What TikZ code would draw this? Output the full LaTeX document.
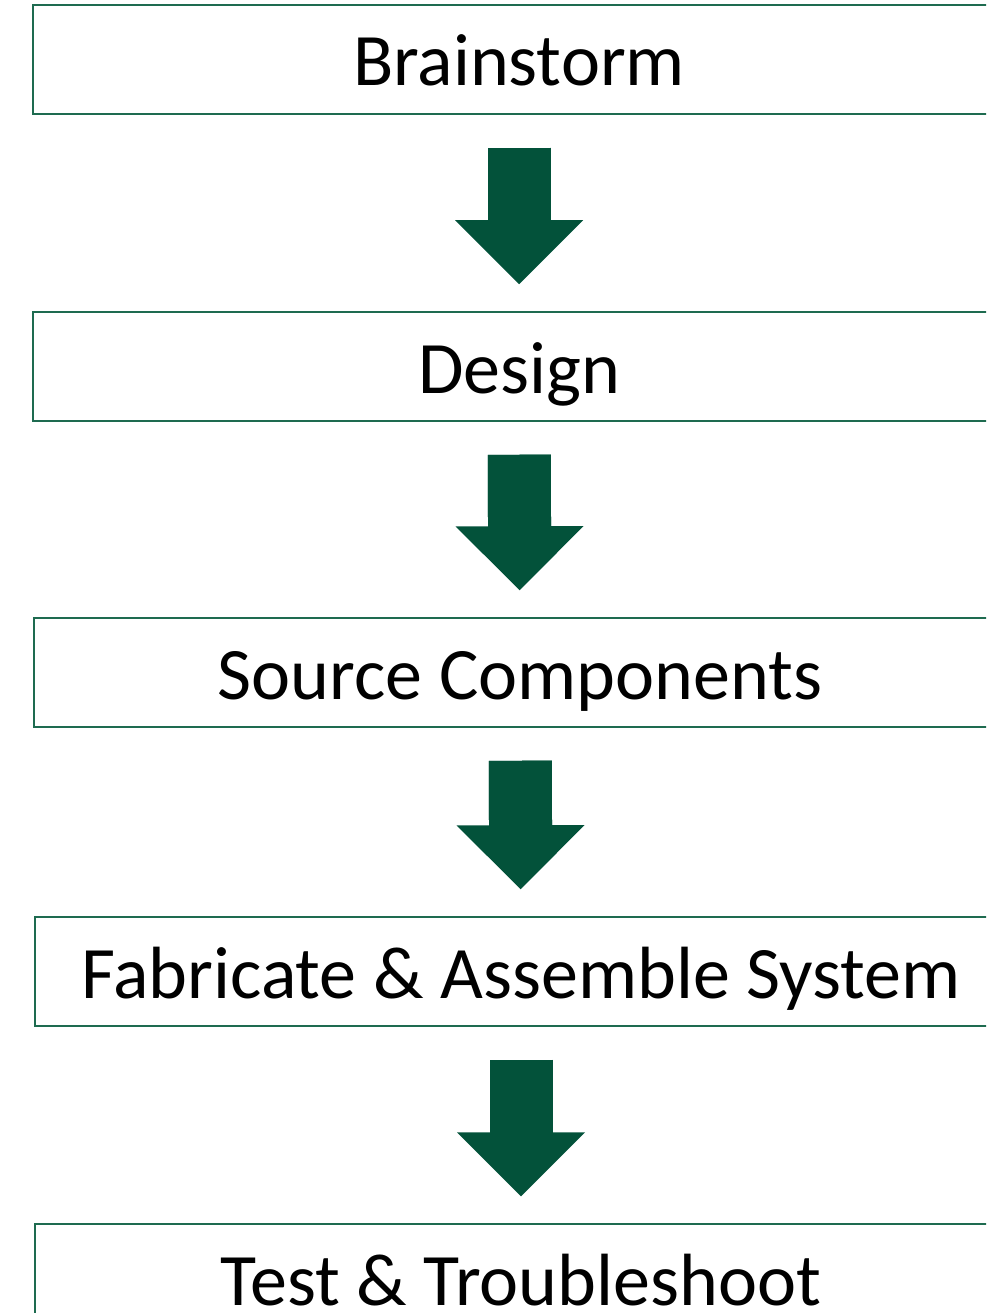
\documentclass[tikz,border=0pt]{standalone}
\usepackage{fontspec}
\setmainfont{Carlito}
\usetikzlibrary{arrows.meta, positioning}

\definecolor{stepgreen}{HTML}{03523A}
\definecolor{boxgreen}{HTML}{1E6B50}

\tikzset{
	stepbox/.style={rectangle, draw=boxgreen, line width=1.5pt, minimum width=972pt, minimum height=109pt, inner sep=0pt, text height=53pt, text depth=0pt, font=\fontsize{74pt}{89pt}\selectfont},
	bigarrow/.style={stepgreen, line width=63pt, shorten <=33pt, shorten >=27pt, -{Triangle[length=64pt, width=128pt, line width=0pt]}, postaction={draw, -, shorten >=86pt}}
}

\begin{document}
\begin{tikzpicture}[x=1pt, y=-1pt, node distance=307pt]
		\useasboundingbox (0,0) rectangle (986,1313);
		\clip (0,0) rectangle (986,1313);
		
		\node[stepbox] at (519,59.5) (brainstorm) {Brainstorm};
		\node[stepbox, below of=brainstorm] (design) {Design};
		\node[stepbox, below of=design, yshift=1pt, xshift=1pt] (source) {Source Components};
		\node[stepbox, below of=source, yshift=8pt, xshift=1pt] (fabricate) {Fabricate \& Assemble System};
		\node[stepbox, below of=fabricate] (test) {Test \& Troubleshoot};
		
		\draw[bigarrow] (brainstorm) -- (design);
		\draw[bigarrow] (design) -- (source);
		\draw[bigarrow] (source) -- (fabricate);
		\draw[bigarrow] (fabricate) -- (test);
	\end{tikzpicture}
\end{document}
